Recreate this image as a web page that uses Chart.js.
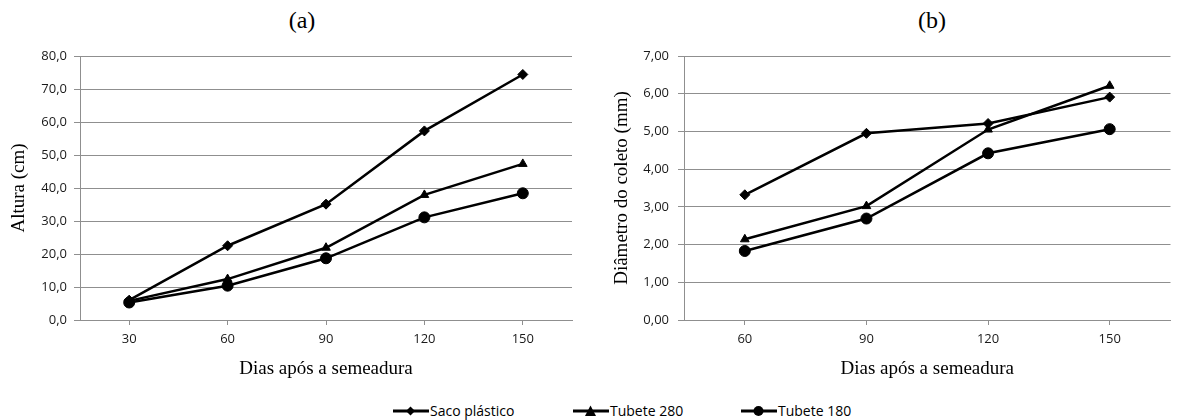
<!DOCTYPE html>
<html>
<head>
<meta charset="utf-8">
<script src="https://cdn.jsdelivr.net/npm/chart.js@4"></script>
<style>
    body { margin: 0; background: #fff; width: 1177px; height: 420px; position: relative; overflow: hidden; }
    .panel { position: absolute; top: 0; height: 385px; }
    .ptitle { position: absolute; top: 7px; font: 24px "Liberation Serif", serif; color: #000; transform: translateX(-50%); }
    #legend { position: absolute; top: 401px; left: 0; width: 1177px; height: 18px; font: 14px "Open Sans", sans-serif; color: #000; }
    .item { position: absolute; top: 0; display: flex; align-items: center; }
    .item svg { margin-right: 1px; }
</style>
</head>
<body>
<div class="ptitle" style="left:302px">(a)</div>
<div class="ptitle" style="left:932px">(b)</div>
<div class="panel" style="left:0;width:580px"><canvas id="chartA" width="580" height="385"></canvas></div>
<div class="panel" style="left:580px;width:597px"><canvas id="chartB" width="597" height="385"></canvas></div>
<div id="legend"></div>

<script>
// Data
const seriesNames = ['Saco plástico', 'Tubete 280', 'Tubete 180'];
const seriesMarkers = ['rectRot', 'triangle', 'circle'];

const daysA = ['30', '60', '90', '120', '150'];
const alturaSaco = [6.0, 22.5, 35.1, 57.3, 74.4];
const alturaT280 = [5.8, 12.4, 21.9, 37.9, 47.3];
const alturaT180 = [5.3, 10.4, 18.7, 31.1, 38.4];

const daysB = ['60', '90', '120', '150'];
const diamSaco = [3.32, 4.95, 5.21, 5.91];
const diamT280 = [2.14, 3.02, 5.05, 6.21];
const diamT180 = [1.83, 2.69, 4.42, 5.06];

const GRID = '#8f8f8f';
const TICK_FONT = { family: 'Open Sans', size: 13 };
const TITLE_FONT = { family: 'Liberation Serif', size: 19 };

function makeDatasets(values) {
    return values.map((v, i) => ({
        label: seriesNames[i],
        data: v,
        borderColor: '#000',
        backgroundColor: '#000',
        borderWidth: 2.5,
        pointStyle: seriesMarkers[i],
        pointRadius: seriesMarkers[i] === 'circle' ? 5.5 : 5,
        pointBorderWidth: 1,
        tension: 0
    }));
}

function makeChart(id, labels, values, opts) {
    const ctx = document.getElementById(id).getContext('2d');
    return new Chart(ctx, {
        type: 'line',
        data: { labels: labels, datasets: makeDatasets(values) },
        options: {
            responsive: false,
            animation: false,
            events: [],
            layout: { padding: { top: 56, right: opts.padRight, left: 0, bottom: 0 } },
            plugins: { legend: { display: false }, title: { display: false }, tooltip: { enabled: false } },
            scales: {
                x: {
                    offset: true,
                    grid: { display: true, drawOnChartArea: false, drawTicks: true, tickLength: 5, color: GRID, offset: false },
                    border: { color: GRID, width: 1 },
                    ticks: { color: '#1a1a1a', font: TICK_FONT, padding: 6, maxRotation: 0 },
                    title: { display: true, text: 'Dias após a semeadura', color: '#000', font: TITLE_FONT, padding: { top: 0, bottom: 5 } },
                    afterFit: s => { s.height = 65; }
                },
                y: {
                    min: 0,
                    max: opts.max,
                    grid: { color: GRID, tickLength: 6, lineWidth: 1 },
                    border: { color: GRID, width: 1 },
                    ticks: {
                        stepSize: opts.step,
                        color: '#1a1a1a',
                        font: TICK_FONT,
                        padding: opts.tickPad,
                        callback: v => v.toFixed(opts.decimals).replace('.', ',')
                    },
                    title: { display: true, text: opts.yTitle, color: '#000', font: TITLE_FONT, padding: { top: opts.titlePad, bottom: 0 } },
                    afterFit: s => { s.width = opts.axisWidth; }
                }
            }
        }
    });
}

makeChart('chartA', daysA, [alturaSaco, alturaT280, alturaT180], {
    max: 80, step: 10, decimals: 1, yTitle: 'Altura (cm)',
    axisWidth: 80, padRight: 8, tickPad: 7, titlePad: 8
});

makeChart('chartB', daysB, [diamSaco, diamT280, diamT180], {
    max: 7, step: 1, decimals: 2, yTitle: 'Diâmetro do coleto (mm)',
    axisWidth: 104, padRight: 2, tickPad: 9, titlePad: 31
});

// Legend below both panels
const legendX = [393, 573, 741];
const legend = document.getElementById('legend');
seriesNames.forEach((name, i) => {
    const item = document.createElement('div');
    item.className = 'item';
    item.style.left = legendX[i] + 'px';
    let marker;
    if (seriesMarkers[i] === 'rectRot') marker = '<polygon points="17.5,3.5 22,8 17.5,12.5 13,8" fill="#000"/>';
    else if (seriesMarkers[i] === 'triangle') marker = '<polygon points="17.5,2.5 23,13 12,13" fill="#000"/>';
    else marker = '<circle cx="17.5" cy="8" r="5" fill="#000"/>';
    item.innerHTML = '<svg width="36" height="16"><line x1="0" y1="8" x2="36" y2="8" stroke="#000" stroke-width="3"/>' + marker + '</svg><span></span>';
    item.querySelector('span').textContent = name;
    legend.appendChild(item);
});
</script>
</body>
</html>
